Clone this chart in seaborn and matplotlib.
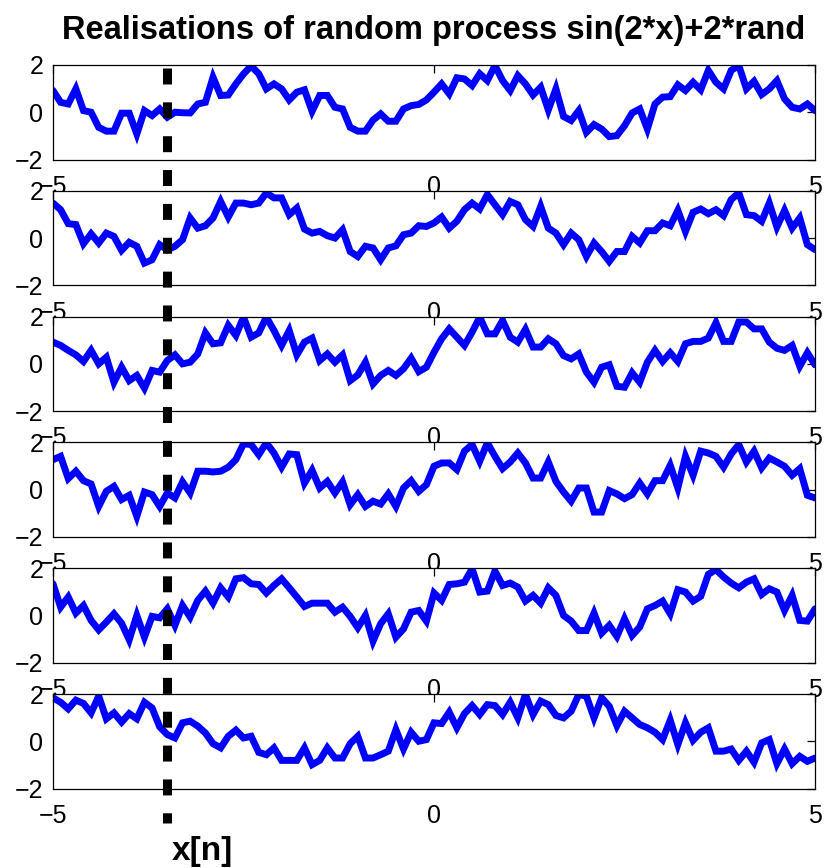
import numpy as np
import matplotlib
matplotlib.use("Agg")
import matplotlib.pyplot as plt
import matplotlib.transforms as mtransforms
from matplotlib.lines import Line2D
from matplotlib import font_manager
import seaborn as sns

# Sample grid x = -5:0.1:5
x = np.linspace(-5, 5, 101)

real_1 = [0.92, 0.42, 0.35, 0.99, 0.07, 0.0, -0.64, -0.8, -0.8, -0.04,
          -0.04, -0.92, 0.07, -0.14, 0.14, -0.21, 0.0, -0.02, -0.03, 0.35,
          0.42, 1.48, 0.71, 0.73, 1.2, 1.62, 1.96, 1.63, 0.99, 1.2,
          0.99, 0.52, 0.85, 0.95, 0.04, 0.71, 0.71, 0.21, 0.14, -0.64,
          -0.8, -0.8, -0.33, -0.07, -0.38, -0.38, 0.14, 0.28, 0.33, 0.52,
          0.85, 1.2, 0.78, 1.46, 1.41, 1.13, 1.63, 1.34, 1.98, 1.34,
          0.92, 1.55, 1.2, 0.73, 1.06, 0.1, 0.99, -0.18, -0.35, 0.07,
          -0.85, -0.52, -0.71, -1.03, -0.99, -0.57, -0.03, 0.14, -0.71, 0.35,
          0.64, 0.66, 1.16, 0.92, 1.27, 0.95, 1.77, 1.27, 0.99, 1.77,
          1.98, 0.99, 1.31, 0.75, 0.99, 1.34, 0.57, 0.21, 0.14, 0.35, 0.07]

real_2 = [1.48, 1.2, 0.61, 0.57, -0.24, 0.18, -0.21, 0.21, 0.07, -0.52,
          -0.18, -0.35, -1.06, -0.92, -0.28, -0.5, -0.35, -0.07, 0.85, 0.42,
          0.52, 0.85, 1.55, 0.89, 1.48, 1.48, 1.41, 1.48, 1.91, 1.7,
          1.7, 0.99, 1.27, 0.38, 0.21, 0.28, 0.1, 0.0, 0.35, -0.57,
          -0.78, -0.35, -0.42, -0.92, -0.42, -0.33, 0.14, 0.21, 0.52, 0.49,
          0.64, 0.89, 0.42, 0.71, 1.2, 1.48, 1.23, 1.84, 1.41, 0.99,
          1.55, 1.41, 0.78, 0.49, 1.34, 0.42, 0.21, -0.28, 0.21, -0.07,
          -0.78, -0.21, -0.57, -0.99, -0.57, -0.57, 0.07, -0.21, 0.31, 0.31,
          0.64, 0.52, 1.17, 0.28, 1.09, 1.23, 1.03, 1.2, 0.95, 1.63,
          1.91, 0.99, 0.95, 0.71, 1.48, 0.47, 1.17, 0.42, 0.85, -0.28, -0.49]

real_3 = [0.92, 0.78, 0.57, 0.38, 0.1, 0.57, 0.0, 0.28, -0.78, -0.14,
          -0.71, -0.49, -1.03, -0.28, -0.35, 0.14, 0.38, 0.0, 0.07, 0.42,
          1.31, 0.85, 0.89, 1.63, 1.2, 1.98, 1.13, 1.31, 1.98, 1.41,
          0.78, 1.41, 0.38, 0.92, 1.09, 0.14, 0.42, 0.07, 0.38, -0.71,
          -0.47, 0.07, -0.85, -0.49, -0.28, -0.49, -0.21, 0.24, -0.33, -0.14,
          0.49, 1.06, 1.48, 1.13, 0.78, 1.34, 1.98, 1.27, 1.27, 1.84,
          1.13, 0.92, 1.46, 0.71, 0.71, 1.06, 0.85, 0.35, 0.21, 0.42,
          -0.35, -0.78, -0.14, -0.04, -0.95, -0.99, -0.38, -0.78, 0.07, 0.57,
          0.1, 0.47, 0.1, 0.85, 0.95, 0.95, 1.09, 1.74, 0.95, 0.95,
          1.77, 1.77, 1.48, 1.48, 0.92, 0.66, 0.57, 0.78, -0.1, 0.47, -0.04]

real_4 = [1.27, 1.41, 0.47, 0.78, 0.38, 0.24, -0.71, -0.07, 0.14, -0.42,
          -0.24, -1.13, -0.1, -0.21, -0.71, -0.14, -0.35, 0.33, -0.14, 0.78,
          0.78, 0.75, 0.78, 0.95, 1.27, 1.94, 1.91, 1.48, 1.98, 1.55,
          0.95, 1.51, 1.48, 0.28, 0.82, 0.07, 0.35, -0.14, 0.33, -0.64,
          -0.21, -0.71, -0.49, -0.61, -0.18, -0.71, 0.07, 0.38, -0.07, 0.21,
          0.99, 1.13, 1.13, 0.85, 1.63, 1.91, 1.2, 1.98, 1.41, 0.89,
          1.17, 1.55, 1.13, 0.49, 0.49, 1.17, 0.35, -0.1, -0.49, 0.07,
          0.07, -0.95, -0.95, -0.04, -0.18, -0.38, -0.21, 0.28, -0.18, 0.38,
          0.38, 1.03, 0.07, 1.41, 0.61, 1.63, 1.55, 1.41, 0.95, 1.51,
          1.91, 1.17, 1.63, 0.92, 1.34, 1.17, 0.99, 0.61, 0.89, -0.24, -0.35]

real_5 = [1.34, 0.35, 0.78, 0.1, 0.42, -0.21, -0.61, -0.28, 0.07, -0.33,
          -1.03, 0.0, -0.92, -0.04, -0.1, 0.28, -0.42, 0.42, -0.07, 0.64,
          1.03, 0.52, 1.17, 0.78, 1.55, 1.6, 1.34, 1.31, 0.95, 1.27,
          1.55, 1.17, 0.78, 0.38, 0.52, 0.52, 0.52, 0.14, 0.35, -0.04,
          -0.52, 0.0, -1.09, -0.35, 0.07, -0.92, -0.57, 0.14, 0.21, -0.24,
          0.95, 0.64, 1.31, 1.34, 1.41, 1.98, 0.99, 1.03, 1.88, 1.27,
          1.37, 1.2, 0.61, 0.85, 0.52, 1.17, 0.85, 0.0, -0.24, -0.64,
          -0.64, 0.1, -0.75, -0.42, -0.89, -0.14, -0.85, -0.49, 0.28, 0.42,
          0.61, 0.07, 1.09, 0.99, 0.61, 0.81, 1.74, 1.94, 1.63, 1.37,
          1.17, 1.41, 1.55, 0.89, 1.13, 0.99, 0.21, 0.85, -0.21, -0.24, 0.28]

real_6 = [1.84, 1.65, 1.37, 1.74, 1.6, 1.2, 1.91, 0.95, 1.2, 0.81,
          1.17, 0.95, 1.65, 1.41, 0.61, 0.28, 0.14, 0.78, 0.85, 0.64,
          0.35, -0.1, -0.28, 0.21, 0.47, 0.14, 0.21, -0.47, -0.57, -0.28,
          -0.81, -0.81, -0.81, -0.28, -0.99, -0.81, -0.28, -0.71, -0.71, -0.1,
          0.21, -0.71, -0.71, -0.57, -0.42, 0.49, -0.33, 0.38, 0.0, 0.07,
          0.78, 0.75, 1.23, 0.57, 1.17, 1.51, 1.13, 1.55, 1.51, 1.13,
          1.65, 0.99, 1.98, 1.13, 1.7, 1.55, 1.09, 0.99, 1.27, 1.98,
          1.91, 0.99, 1.84, 1.48, 0.66, 1.27, 0.99, 0.71, 0.57, 0.38,
          0.07, 0.89, -0.14, 0.78, 0.04, 0.38, 0.57, -0.42, -0.42, -0.33,
          -0.81, -0.42, -0.89, -0.07, 0.07, -0.95, -0.33, -0.95, -0.64, -0.85, -0.71]

realisations = [real_1, real_2, real_3, real_4, real_5, real_6]

x_n = -3.5
title = "Realisations of random process sin(2*x)+2*rand"
marker_label = "x[n]"
x_ticks = [-5, 0, 5]
y_ticks = [-2, 0, 2]

sns.set_style("white")
installed = {f.name for f in font_manager.fontManager.ttflist}
narrow = [n for n in ("Liberation Sans Narrow", "DejaVu Sans Condensed") if n in installed]
plt.rcParams["font.family"] = narrow + ["Liberation Sans", "DejaVu Sans"]
plt.rcParams["axes.edgecolor"] = "black"
plt.rcParams["text.color"] = "black"
plt.rcParams["xtick.color"] = "black"
plt.rcParams["ytick.color"] = "black"

W, H = 832, 868
fig = plt.figure(figsize=(W / 100, H / 100), dpi=100)
fig.patch.set_facecolor("white")

left_px, right_px = 53, 815
top0_px, step_px, height_px = 65, 125.8, 94.5

axes = []
for k, y in enumerate(realisations):
    t = top0_px + k * step_px
    ax = fig.add_axes([left_px / W, 1 - (t + height_px) / H,
                       (right_px - left_px) / W, height_px / H])
    ax.set_facecolor("white")
    sns.lineplot(x=x, y=y, ax=ax, color=(0, 0, 1), linewidth=5, estimator=None)
    ax.lines[0].set_solid_joinstyle("miter")
    ax.set_xlim(-5, 5)
    ax.set_ylim(-2, 2)
    ax.set_xticks(x_ticks)
    ax.set_yticks(y_ticks)
    ax.tick_params(direction="in", top=True, right=True, length=5.5, width=0.9,
                   labelsize=18, colors="black")
    ax.tick_params(axis="x", pad=11)
    ax.tick_params(axis="y", pad=7)
    for s in ax.spines.values():
        s.set_visible(True)
        s.set_linewidth(0.9)
        s.set_color("black")
    ax.set_xlabel("")
    ax.set_ylabel("")
    axes.append(ax)

title_size = 26 if narrow else 23.5
axes[0].text(0.5, 1 + (65 - 39) / height_px, title, transform=axes[0].transAxes,
             ha="center", va="baseline", fontsize=title_size, fontweight="bold",
             color="black")

# Vertical dashed marker spanning all realisations
trans = mtransforms.blended_transform_factory(axes[0].transData, fig.transFigure)
marker = Line2D([x_n, x_n], [1 - 68 / H, 1 - 823 / H], transform=trans,
                color="black", linewidth=6.5, dashes=(1.77, 1.98),
                dash_capstyle="butt")
fig.add_artist(marker)

label_trans = trans + mtransforms.ScaledTranslation(4 / 100, 0, fig.dpi_scale_trans)
fig.text(x_n, 1 - 860 / H, marker_label, transform=label_trans, ha="left",
         va="baseline", fontsize=27 if narrow else 24, fontweight="bold",
         color="black")

fig.savefig("out.png", dpi=100)
